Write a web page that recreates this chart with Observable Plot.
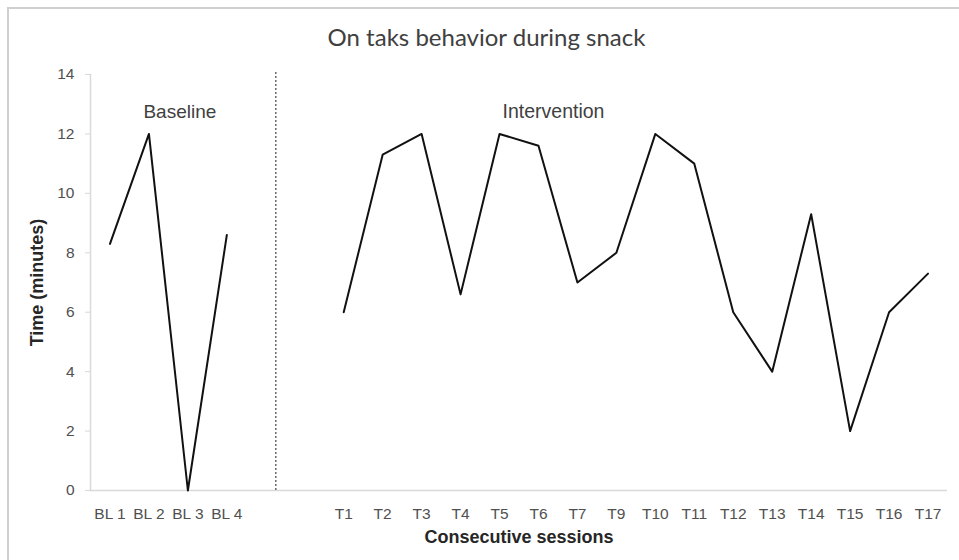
<!DOCTYPE html>
<html><head><meta charset="utf-8">
<script src="https://cdn.jsdelivr.net/npm/d3@7"></script>
<script src="https://cdn.jsdelivr.net/npm/@observablehq/plot@0.6"></script>
<style>
body{margin:0;background:#fff;}
#wrap{position:relative;width:959px;height:560px;overflow:hidden;background:#fff;}
#frame{position:absolute;left:7px;top:7px;right:-10px;bottom:-10px;border-top:2px solid #cfcfcf;border-left:2px solid #cfcfcf;pointer-events:none;}
#wrap svg{position:absolute;left:0;top:0;}
</style></head><body>
<div id="wrap"><div id="frame"></div></div>
<script>
const title = "On taks behavior during snack";
const xLabel = "Consecutive sessions";
const yLabel = "Time (minutes)";
const phaseLabels = ["Baseline", "Intervention"];
const baselineSessions = ["BL 1", "BL 2", "BL 3", "BL 4"];
const baselineValues = [8.3, 12, 0, 8.6];
const gapSlots = ["gap1", "gap2"];
const interventionSessions = ["T1","T2","T3","T4","T5","T6","T7","T9","T10","T11","T12","T13","T14","T15","T16","T17"];
const interventionValues = [6, 11.3, 12, 6.6, 12, 11.6, 7, 8, 12, 11, 6, 4, 9.3, 2, 6, 7.3];
const yTicks = [0, 2, 4, 6, 8, 10, 12, 14];

const baseline = baselineSessions.map((s, i) => ({session: s, value: baselineValues[i]}));
const intervention = interventionSessions.map((s, i) => ({session: s, value: interventionValues[i]}));

const chart = Plot.plot({
  width: 959, height: 560,
  marginLeft: 90, marginRight: 12, marginTop: 74, marginBottom: 70,
  style: {fontFamily: "'Liberation Sans', Arial, sans-serif", background: "transparent", overflow: "visible"},
  x: {type: "point", domain: [...baselineSessions, ...gapSlots, ...interventionSessions], padding: 0.5, round: false, axis: null},
  y: {domain: [0, 14], axis: null},
  marks: [
    Plot.frame({anchor: "left", stroke: "#d9d9d9", strokeWidth: 1.5}),
    Plot.ruleY([0], {stroke: "#d9d9d9", strokeWidth: 1.5}),
    Plot.axisY({ticks: yTicks, tickSize: 5, tickPadding: 11, stroke: "#d9d9d9", fill: "#505050", fontSize: 15.5, label: null}),
    Plot.axisX({ticks: [...baselineSessions, ...interventionSessions], tickSize: 0, tickPadding: 17, fill: "#505050", fontSize: 15.5, label: null}),
    Plot.ruleX([gapSlots[0]], {x: d => d, dx: 10, y1: 0, y2: 14.1, stroke: "#6a6a6a", strokeWidth: 1.5, strokeDasharray: "2,2"}),
    Plot.lineY(baseline, {x: "session", y: "value", stroke: "#111", strokeWidth: 2}),
    Plot.lineY(intervention, {x: "session", y: "value", stroke: "#111", strokeWidth: 2}),
    Plot.text([phaseLabels[0]], {x: () => "BL 3", y: () => 12.75, dx: -8, text: d => d, fontSize: 19, fill: "#404040"}),
    Plot.text([phaseLabels[1]], {x: () => "T6", y: () => 12.75, dx: 15, text: d => d, fontSize: 19.5, fill: "#404040"}),
    Plot.text([title], {frameAnchor: "top", dx: -32.5, dy: -36, lineAnchor: "middle", text: d => d, fontSize: 24, fill: "#404040", fontFamily: "Lato, 'Open Sans', sans-serif"}),
    Plot.text([xLabel], {frameAnchor: "bottom", dy: 47, lineAnchor: "middle", text: d => d, fontSize: 18, fontWeight: "bold", fill: "#262626"}),
    Plot.text([yLabel], {frameAnchor: "left", dx: -53, rotate: -90, textAnchor: "middle", lineAnchor: "middle", text: d => d, fontSize: 18, fontWeight: "bold", fill: "#262626"})
  ]
});
document.getElementById("wrap").appendChild(chart);
</script>
</body></html>
